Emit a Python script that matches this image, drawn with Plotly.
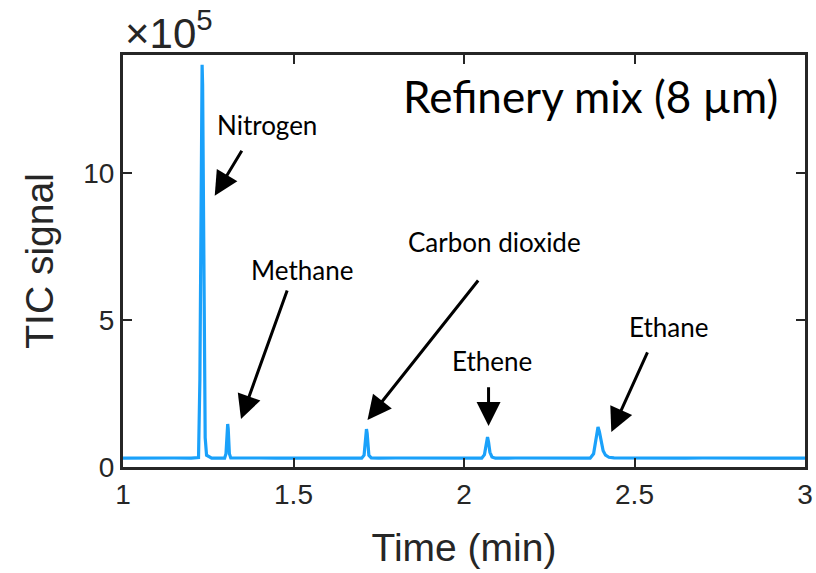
import plotly.graph_objects as go

# Chromatogram trace (time in min, TIC counts)
time_min = [1.000, 1.050, 1.100, 1.150, 1.200, 1.2150, 1.2215, 1.2255, 1.2280, 1.2305, 1.2320,
            1.2335, 1.2360, 1.2385, 1.2410, 1.2450, 1.2600, 1.2800, 1.2980, 1.3020, 1.3040,
            1.3055, 1.3070, 1.3085, 1.3100, 1.3120, 1.3160, 1.3500, 1.4000, 1.4500, 1.5000,
            1.5500, 1.6000, 1.6500, 1.7000, 1.7070, 1.7100, 1.7120, 1.7140, 1.7160, 1.7180,
            1.7210, 1.7280, 1.7500, 1.8000, 1.8500, 1.9000, 1.9500, 2.0000, 2.0520, 2.0600,
            2.0640, 2.0670, 2.0690, 2.0720, 2.0760, 2.0820, 2.0920, 2.1500, 2.2000, 2.2500,
            2.3000, 2.3700, 2.3800, 2.3860, 2.3900, 2.3930, 2.3970, 2.4020, 2.4080, 2.4150,
            2.4250, 2.4400, 2.5000, 2.5500, 2.6000, 2.6500, 2.7000, 2.7500, 2.8000, 2.8500,
            2.9000, 2.9500, 3.0000]
tic_signal = [30000, 31000, 30000, 30500, 30000, 30000, 32000, 300000, 900000, 1300000, 1367000,
              1300000, 900000, 350000, 100000, 40000, 30000, 30500, 30000, 45000, 90000,
              135000, 146000, 130000, 85000, 45000, 31000, 30000, 30500, 30000, 29500,
              30000, 30500, 30000, 30000, 40000, 80000, 118000, 129000, 115000, 75000,
              40000, 31000, 30000, 30500, 30000, 30000, 30500, 30000, 30000, 42000,
              75000, 100000, 102000, 85000, 50000, 34000, 30000, 30500, 30000, 30500,
              29500, 30000, 45000, 85000, 125000, 136000, 120000, 85000, 55000, 40000,
              33000, 31000, 30000, 30500, 30000, 30000, 30500, 30000, 30000, 30500,
              30000, 30000, 30000]

x_ticks = [1, 1.5, 2, 2.5, 3]
x_tick_labels = ["1", "1.5", "2", "2.5", "3"]
y_ticks = [0, 500000, 1000000]
y_tick_labels = ["0", "5", "10"]

# compound labels: name, label position, arrow tail, arrow tip (data units)
compounds = ["Nitrogen", "Methane", "Carbon dioxide", "Ethene", "Ethane"]
label_x = [1.422, 1.524, 2.089, 2.083, 2.599]
label_y = [1163000, 670000, 765000, 360000, 476000]
tail_x = [1.351, 1.483, 2.045, 2.072, 2.540]
tail_y = [1080000, 605000, 639000, 276000, 395000]
tip_x = [1.269, 1.346, 1.717, 2.072, 2.432]
tip_y = [922000, 163000, 160000, 139000, 119000]

AX = "#262626"
fig = go.Figure()
fig.add_trace(go.Scatter(x=time_min, y=tic_signal, mode="lines",
                         line=dict(color="#1AA1FA", width=3.2), showlegend=False))

ann = []
for i, name in enumerate(compounds):
    ann.append(dict(x=label_x[i], y=label_y[i], xref="x", yref="y", text=name,
                    showarrow=False, font=dict(family="Lato", size=26, color="black")))
    ann.append(dict(x=tip_x[i], y=tip_y[i], ax=tail_x[i], ay=tail_y[i], xref="x", yref="y",
                    axref="x", ayref="y", text="", showarrow=True, arrowhead=2,
                    arrowsize=1.6, arrowwidth=3, arrowcolor="black"))
ann.append(dict(x=0.963, y=0.9, xref="paper", yref="paper", xanchor="right", yanchor="middle",
                text="Refinery mix (8 µm)", showarrow=False,
                font=dict(family="Lato", size=44, color="black")))
ann.append(dict(x=0.0, y=1.0, xref="paper", yref="paper", xanchor="left", yanchor="bottom",
                text="×10<sup>5</sup>", showarrow=False,
                yshift=-4, xshift=0,
                font=dict(family="Liberation Sans", size=42, color=AX)))

fig.update_layout(
    width=816, height=573,
    margin=dict(l=123, r=11, t=55, b=106, autoexpand=False),
    plot_bgcolor="white", paper_bgcolor="white",
    annotations=ann,
    xaxis=dict(range=[1, 3], tickvals=x_ticks, ticktext=x_tick_labels, automargin=False,
               showgrid=False, zeroline=False, showline=True, linecolor=AX, linewidth=3,
               mirror="ticks", ticks="inside", ticklen=9, tickwidth=2, tickcolor=AX,
               tickfont=dict(family="Liberation Sans", size=28, color=AX),
               title=dict(text="Time (min)", standoff=26,
                          font=dict(family="Liberation Sans", size=39, color=AX))),
    yaxis=dict(range=[0, 1400000], tickvals=y_ticks, ticktext=y_tick_labels, automargin=False,
               showgrid=False, zeroline=False, showline=True, linecolor=AX, linewidth=3,
               mirror="ticks", ticks="inside", ticklen=9, tickwidth=2, tickcolor=AX,
               tickfont=dict(family="Liberation Sans", size=28, color=AX),
               title=dict(text="TIC signal", standoff=18,
                          font=dict(family="Liberation Sans", size=39, color=AX))),
)
fig.write_html("out.html")
